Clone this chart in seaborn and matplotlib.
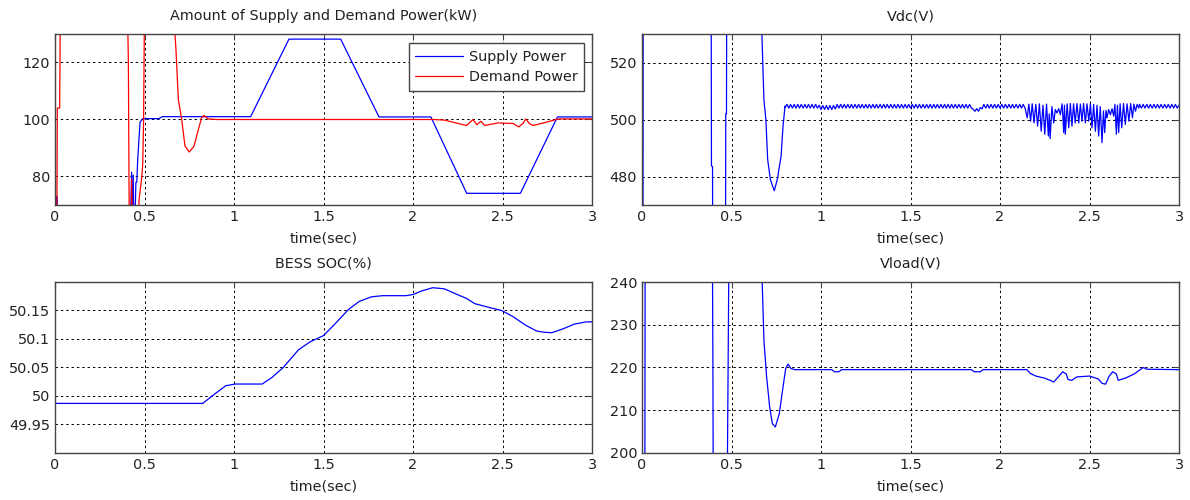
import numpy as np
import pandas as pd
import matplotlib
matplotlib.use("Agg")
import matplotlib.pyplot as plt
import seaborn as sns

# ---------------- data ----------------
xtick_vals = [0, 0.5, 1, 1.5, 2, 2.5, 3]
xtick_labels = ["0", "0.5", "1", "1.5", "2", "2.5", "3"]

# Panel 1: supply / demand power (kW)
sup_t = [0.0, 0.008, 0.010, 0.012, 0.42, 0.428, 0.432, 0.437, 0.441, 0.445, 0.452, 0.457,
         0.462, 0.468, 0.475, 0.49, 0.58, 0.60, 1.093, 1.307, 1.596, 1.81, 2.10, 2.30,
         2.60, 2.807, 3.0]
sup_v = [60, 60, 73, 60, 60, 81.5, 60, 80.5, 60, 60, 78, 78,
         86, 92, 99, 100.3, 100.3, 101, 101, 128.2, 128.2, 100.9, 100.9, 74.1,
         74.1, 100.9, 100.9]

dem_t = [0.0, 0.010, 0.013, 0.026, 0.030, 0.405, 0.410, 0.415, 0.425, 0.428,
         0.432, 0.462, 0.470, 0.485, 0.490, 0.495, 0.500, 0.665, 0.676, 0.689,
         0.708, 0.726, 0.750, 0.777, 0.801, 0.819, 0.832, 0.857, 0.90, 2.11,
         2.175, 2.24, 2.30, 2.335, 2.357, 2.38, 2.40, 2.475, 2.56, 2.59,
         2.614, 2.63, 2.65, 2.67, 2.73, 2.80, 2.82, 3.0]
dem_v = [60, 60, 104, 104, 140, 140, 119, 60, 60, 79,
         60, 60, 72, 80, 84, 100, 140, 135, 124.3, 107,
         100, 90.7, 88.6, 90.7, 96.5, 100.6, 101.4, 100.2, 100, 100,
         99.8, 98.8, 97.9, 100, 98.2, 99.4, 97.9, 98.8, 98.6, 97.4,
         98.6, 100.2, 98.6, 97.9, 98.8, 100, 100.2, 100.2]

# Panel 2: Vdc (V)
vdc_pre_t = [0.0, 0.005, 0.007, 0.385, 0.388, 0.394, 0.397, 0.465, 0.468, 0.472, 0.475,
             0.668, 0.670, 0.681, 0.692, 0.702, 0.717, 0.739, 0.756, 0.777, 0.788, 0.799]
vdc_pre_v = [400, 400, 600, 600, 483.7, 483.5, 400, 400, 502, 502, 600,
             560, 529.7, 507, 500, 486, 479, 475, 479, 487.2, 497.7, 504.7]
# ripple band, one sample every 0.01 s from t = 0.80
vdc_ripple_v = [
    504.2, 505.3, 504.0, 505.3, 504.0, 505.3, 504.0, 505.3, 504.0, 505.3,   # 0.80
    504.0, 505.3, 504.0, 505.3, 504.0, 505.3, 504.0, 505.3, 504.0, 505.0,   # 0.90
    503.5, 504.9, 503.5, 504.9, 503.5, 504.9, 503.5, 504.9, 503.7, 505.3,   # 1.00
    504.0, 505.3, 504.0, 505.3, 504.0, 505.3, 504.0, 505.3, 504.0, 505.3,   # 1.10
    504.0, 505.3, 504.0, 505.3, 504.0, 505.3, 504.0, 505.3, 504.0, 505.3,   # 1.20
    504.0, 505.3, 504.0, 505.3, 504.0, 505.3, 504.0, 505.3, 504.0, 505.3,   # 1.30
    504.0, 505.3, 504.0, 505.3, 504.0, 505.3, 504.0, 505.3, 504.0, 505.3,   # 1.40
    504.0, 505.3, 504.0, 505.3, 504.0, 505.3, 504.0, 505.3, 504.0, 505.3,   # 1.50
    504.0, 505.3, 504.0, 505.3, 504.0, 505.3, 504.0, 505.3, 504.0, 505.3,   # 1.60
    504.0, 505.3, 504.0, 505.3, 504.0, 505.3, 504.0, 505.3, 504.0, 505.3,   # 1.70
    504.0, 505.3, 504.0, 505.3, 504.0, 503.6, 502.9, 503.8, 502.9, 504.2,   # 1.80
    503.7, 505.3, 504.0, 505.3, 504.0, 505.3, 504.0, 505.3, 504.0, 505.3,   # 1.90
    504.0, 505.3, 504.0, 505.3, 504.0, 505.3, 504.0, 505.3, 504.0, 505.3,   # 2.00
    504.0, 505.3, 504.0, 505.3, 504.0,                                      # 2.10
]
vdc_noise = [
    (2.152, 500.6), (2.161, 505.4), (2.171, 499.4), (2.180, 505.5), (2.190, 498.8),
    (2.200, 505.3), (2.210, 497.7), (2.220, 505.5), (2.230, 495.9), (2.240, 505.0),
    (2.250, 494.8), (2.260, 505.4), (2.270, 494.2), (2.275, 502.0), (2.280, 493.3),
    (2.290, 504.5), (2.300, 498.8), (2.309, 503.5), (2.318, 502.3), (2.328, 503.8),
    (2.337, 501.7), (2.347, 505.5), (2.356, 495.4), (2.360, 505.0), (2.365, 494.8),
    (2.375, 505.5), (2.384, 497.1), (2.393, 505.6), (2.402, 497.7), (2.411, 505.5),
    (2.420, 498.8), (2.430, 505.6), (2.440, 498.8), (2.449, 505.4), (2.458, 499.4),
    (2.467, 505.6), (2.477, 498.8), (2.486, 505.5), (2.496, 499.4), (2.505, 505.6),
    (2.514, 497.1), (2.523, 505.3), (2.533, 495.9), (2.542, 505.0), (2.551, 494.2),
    (2.560, 504.5), (2.570, 491.9), (2.578, 503.0), (2.585, 495.4), (2.592, 503.2),
    (2.598, 500.6), (2.607, 503.5), (2.617, 501.7), (2.626, 503.8), (2.635, 501.2),
    (2.642, 505.3), (2.650, 494.8), (2.656, 505.0), (2.663, 495.4), (2.671, 505.5),
    (2.680, 497.1), (2.690, 505.6), (2.700, 498.3), (2.710, 505.5), (2.720, 499.4),
    (2.730, 505.6), (2.740, 500.6), (2.748, 505.4), (2.757, 502.9), (2.766, 505.3),
    (2.775, 504.0),
]
# ripple band again, one sample every 0.01 s from t = 2.78
vdc_tail_v = [505.3, 504.0, 505.3, 504.0, 505.3, 504.0, 505.3, 504.0, 505.3, 504.0,
              505.3, 504.0, 505.3, 504.0, 505.3, 504.0, 505.3, 504.0, 505.3, 504.0,
              505.3, 504.0, 505.0]

# Panel 3: BESS SOC (%)
soc_t = [0.0, 0.003, 0.825, 0.89, 0.954, 1.007, 1.157, 1.21, 1.275, 1.36, 1.425, 1.50,
         1.575, 1.64, 1.70, 1.768, 1.83, 1.96, 2.0, 2.046, 2.11, 2.175, 2.24, 2.30,
         2.345, 2.43, 2.495, 2.56, 2.625, 2.69, 2.73, 2.775, 2.84, 2.90, 2.967, 3.0]
soc_v = [50.0, 49.987, 49.987, 50.003, 50.018, 50.021, 50.021, 50.032, 50.05, 50.081,
         50.095, 50.106, 50.13, 50.152, 50.166, 50.174, 50.176, 50.176, 50.178, 50.184,
         50.19, 50.188, 50.179, 50.171, 50.162, 50.155, 50.15, 50.139, 50.125, 50.114,
         50.112, 50.111, 50.118, 50.126, 50.13, 50.13]

# Panel 4: Vload (V)
vl_t = [0.0, 0.015, 0.018, 0.392, 0.396, 0.400, 0.470, 0.478, 0.488, 0.668,
        0.681, 0.696, 0.713, 0.728, 0.745, 0.767, 0.788, 0.803, 0.816, 0.831,
        0.853, 1.06, 1.075, 1.10, 1.115, 1.84, 1.855, 1.89, 1.905, 2.15,
        2.17, 2.20, 2.25, 2.28, 2.30, 2.33, 2.35, 2.37, 2.38, 2.40,
        2.43, 2.50, 2.55, 2.57, 2.59, 2.61, 2.63, 2.65, 2.66, 2.70,
        2.75, 2.80, 2.82, 3.0]
vl_v = [160, 160, 260, 260, 222, 160, 160, 202.6, 260, 245,
        226.5, 217.9, 210.8, 206.9, 206.1, 209.2, 215.5, 219.8, 220.8, 219.8,
        219.5, 219.5, 219.0, 219.0, 219.5, 219.5, 219.0, 219.0, 219.5, 219.5,
        218.6, 218.0, 217.5, 217.0, 216.6, 218.0, 219.0, 218.5, 217.2, 217.0,
        217.8, 218.0, 217.3, 216.3, 216.1, 218.0, 219.0, 218.5, 217.0, 217.5,
        218.5, 220.0, 219.6, 219.5]

titles = ["Amount of Supply and Demand Power(kW)", "Vdc(V)", "BESS SOC(%)", "Vload(V)"]
legend_labels = ["Supply Power", "Demand Power"]
xlabel_text = "time(sec)"

# ---------------- assemble Vdc series ----------------
ripple_t = [0.80 + 0.01 * i for i in range(len(vdc_ripple_v))]
noise_t = [p[0] for p in vdc_noise]
noise_v = [p[1] for p in vdc_noise]
tail_t = [2.78 + 0.01 * i for i in range(len(vdc_tail_v))]
vdc_t = list(vdc_pre_t) + ripple_t + noise_t + tail_t
vdc_v = list(vdc_pre_v) + vdc_ripple_v + noise_v + vdc_tail_v

# ---------------- style ----------------
sns.set_style("white")
plt.rcParams["font.family"] = ["DejaVu Sans"]
TXT = "#222222"
FS = 10.4

W, H = 1190, 500
fig = plt.figure(figsize=(W / 100, H / 100), dpi=100)
fig.patch.set_facecolor("white")


def rect(l, t, r, b):
    return [l / W, 1 - b / H, (r - l) / W, (b - t) / H]


ax1 = fig.add_axes(rect(55, 34, 592, 205))
ax2 = fig.add_axes(rect(642, 34, 1179, 205))
ax3 = fig.add_axes(rect(55, 282, 592, 453))
ax4 = fig.add_axes(rect(642, 282, 1179, 453))

LW = 0.9
BLUE = "#0000FF"
RED = "#FF0000"

sns.lineplot(x=sup_t, y=sup_v, ax=ax1, color=BLUE, lw=LW, estimator=None, sort=False,
             label=legend_labels[0])
sns.lineplot(x=dem_t, y=dem_v, ax=ax1, color=RED, lw=LW, estimator=None, sort=False,
             label=legend_labels[1])
sns.lineplot(x=vdc_t, y=vdc_v, ax=ax2, color=BLUE, lw=LW, estimator=None, sort=False)
sns.lineplot(x=soc_t, y=soc_v, ax=ax3, color=BLUE, lw=LW, estimator=None, sort=False)
sns.lineplot(x=vl_t, y=vl_v, ax=ax4, color=BLUE, lw=LW, estimator=None, sort=False)


def style(ax, title, ylim, yticks, ylabels, tpad):
    ax.set_xlim(0, 3)
    ax.set_ylim(*ylim)
    ax.set_xticks(xtick_vals)
    ax.set_xticklabels(xtick_labels)
    ax.set_yticks(yticks)
    ax.set_yticklabels(ylabels)
    ax.grid(True, color="black", linestyle=(0, (2.5, 3)), linewidth=0.7)
    ax.set_axisbelow(True)
    for s in ax.spines.values():
        s.set_visible(True)
        s.set_color("#444444")
        s.set_linewidth(1.0)
    ax.tick_params(direction="in", length=4, width=0.8, top=True, right=True,
                   labelsize=FS, colors="#444444", labelcolor=TXT, pad=3.5)
    ax.set_title(title, fontsize=FS, color=TXT, pad=tpad)
    ax.set_xlabel(xlabel_text, fontsize=FS, color=TXT, labelpad=5.5)
    ax.set_ylabel("")


style(ax1, titles[0], (70, 130), [80, 100, 120], ["80", "100", "120"], 10)
style(ax2, titles[1], (470, 530), [480, 500, 520], ["480", "500", "520"], 10)
style(ax3, titles[2], (49.9, 50.2), [49.95, 50.0, 50.05, 50.1, 50.15],
      ["49.95", "50", "50.05", "50.1", "50.15"], 10.5)
style(ax4, titles[3], (200, 240), [200, 210, 220, 230, 240],
      ["200", "210", "220", "230", "240"], 10.5)

leg = ax1.legend(loc="upper right", bbox_to_anchor=(0.985, 0.947), borderaxespad=0,
                 fontsize=FS, frameon=True, fancybox=False, framealpha=1,
                 edgecolor="#444444", handlelength=3.3, handletextpad=0.4,
                 borderpad=0.45, labelspacing=0.45)
leg.get_frame().set_linewidth(1.0)
for t in leg.get_texts():
    t.set_color(TXT)

fig.savefig("out.png", dpi=100, facecolor="white")
